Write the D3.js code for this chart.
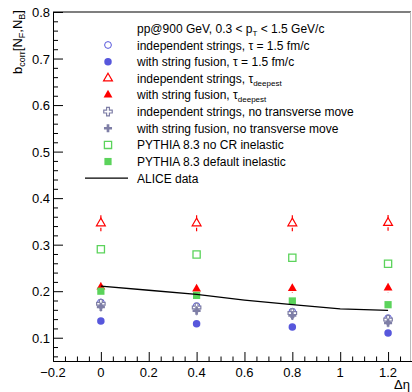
<!DOCTYPE html>
<html>
<head>
<meta charset="utf-8">
<script src="https://cdn.jsdelivr.net/npm/d3@7"></script>
<style>
  body { margin: 0; background: #fff; }
  text { font-family: "Liberation Sans", Arial, sans-serif; }
</style>
</head>
<body>
<div id="chart"></div>
<script>
// pseudorapidity gap points
var deta = [0, 0.4, 0.8, 1.2];

var indepTau      = [0.176, 0.168, 0.156, 0.142];
var fusionTau     = [0.136, 0.130, 0.123, 0.110];
var indepDeep     = [0.346, 0.346, 0.346, 0.347];
var indepDeepErr  = [0.017, 0.017, 0.017, 0.017];
var fusionDeep    = [0.209, 0.205, 0.206, 0.207];
var fusionDeepErr = [0.010, 0.010, 0.009, 0.009];
var indepNoMove   = [0.173, 0.165, 0.153, 0.139];
var fusionNoMove  = [0.166, 0.158, 0.148, 0.132];
var noMoveErr     = [0.008, 0.008, 0.008, 0.008];
var pythiaNoCR    = [0.290, 0.279, 0.272, 0.259];
var pythiaDefault = [0.200, 0.191, 0.179, 0.171];

var aliceX = [0, 0.2, 0.4, 0.6, 0.8, 1.0, 1.2];
var aliceY = [0.211, 0.202, 0.193, 0.181, 0.171, 0.162, 0.159];

var xTicks = [-0.2, 0, 0.2, 0.4, 0.6, 0.8, 1, 1.2];
var yTicks = [0.1, 0.2, 0.3, 0.4, 0.5, 0.6, 0.7, 0.8];

var W = 412, H = 392;
var x = d3.scaleLinear().domain([-0.2, 1.3]).range([53, 412]);
var y = d3.scaleLinear().domain([0.05, 0.8]).range([361, 12]);

var svg = d3.select("#chart").append("svg")
    .attr("width", W).attr("height", H);

// frame
svg.append("line").attr("x1", 53).attr("x2", 411).attr("y1", 12).attr("y2", 12)
    .attr("stroke", "#555").attr("stroke-width", 1.5);
svg.append("line").attr("x1", 410.5).attr("x2", 410.5).attr("y1", 12).attr("y2", 361)
    .attr("stroke", "#bbb").attr("stroke-width", 1);

// x axis
var xMinor = d3.range(-0.2, 1.3001, 0.05).filter(function(v) {
  return Math.abs(Math.round(v * 5) - v * 5) > 1e-6;
});
var xAxis = svg.append("g").attr("transform", "translate(0,361)")
    .call(d3.axisTop(x).tickValues(xTicks).tickSize(9).tickFormat(""));
xAxis.select(".domain").attr("stroke", "#000");
svg.append("g").attr("transform", "translate(0,361)")
    .call(d3.axisTop(x).tickValues(xMinor).tickSize(4.5).tickFormat(""))
    .select(".domain").remove();
svg.selectAll(".xlab").data(xTicks).enter().append("text")
    .attr("class", "xlab")
    .attr("x", function(d) { return x(d); })
    .attr("y", 377)
    .attr("text-anchor", "middle")
    .attr("font-size", 13)
    .text(function(d) { return d === 0 ? "0" : d3.format("")(d).replace("-", "\u2212"); });
svg.append("text").attr("x", 410).attr("y", 389).attr("text-anchor", "end")
    .attr("font-size", 13).text("\u0394\u03b7");

// y axis
var yMinor = d3.range(0.06, 0.8001, 0.02).filter(function(v) {
  return Math.abs(Math.round(v * 10) - v * 10) > 1e-6;
});
var yAxis = svg.append("g").attr("transform", "translate(53,0)")
    .call(d3.axisRight(y).tickValues(yTicks).tickSize(10).tickFormat(""));
yAxis.select(".domain").attr("stroke", "#000");
svg.append("g").attr("transform", "translate(53,0)")
    .call(d3.axisRight(y).tickValues(yMinor).tickSize(5).tickFormat(""))
    .select(".domain").remove();
svg.selectAll(".ylab").data(yTicks).enter().append("text")
    .attr("class", "ylab")
    .attr("x", 50)
    .attr("y", function(d) { return y(d) + 5; })
    .attr("text-anchor", "end")
    .attr("font-size", 13)
    .text(function(d) { return d3.format(".1f")(d); });

var ytitle = svg.append("text")
    .attr("transform", "translate(22,10) rotate(-90)")
    .attr("text-anchor", "end")
    .attr("font-size", 13);
ytitle.append("tspan").text("b");
ytitle.append("tspan").attr("font-size", 9).attr("dy", 3).text("corr");
ytitle.append("tspan").attr("dy", -3).text("[N");
ytitle.append("tspan").attr("font-size", 9).attr("dy", 3).text("F");
ytitle.append("tspan").attr("dy", -3).text(",N");
ytitle.append("tspan").attr("font-size", 9).attr("dy", 3).text("B");
ytitle.append("tspan").attr("dy", -3).text("]");

// series definitions
var blue = "#5757dc", red = "#ff0000", green = "#5bd35b", grey = "#7e7ea6";
var series = [
  { vals: indepTau, sym: d3.symbolCircle, size: 36, fill: "none", stroke: blue, sw: 1 },
  { vals: fusionTau, sym: d3.symbolCircle, size: 44, fill: blue, stroke: "none", sw: 0 },
  { vals: indepDeep, err: indepDeepErr, sym: d3.symbolTriangle, size: 34, fill: "none", stroke: red, sw: 1.2 },
  { vals: fusionDeep, err: fusionDeepErr, sym: d3.symbolTriangle, size: 34, fill: red, stroke: "none", sw: 0 },
  { vals: indepNoMove, err: noMoveErr, sym: d3.symbolCross, size: 40, fill: "#fff", stroke: grey, sw: 1.2 },
  { vals: fusionNoMove, err: noMoveErr, sym: d3.symbolCross, size: 36, fill: grey, stroke: "none", sw: 0 },
  { vals: pythiaNoCR, sym: d3.symbolSquare, size: 52, fill: "none", stroke: green, sw: 1.3 },
  { vals: pythiaDefault, sym: d3.symbolSquare, size: 52, fill: green, stroke: "none", sw: 0 }
];

var plot = svg.append("g");
var gap = 4.5; // error bars stop at the marker edge, as ROOT draws them
series.forEach(function(s) {
  var col = s.stroke !== "none" ? s.stroke : s.fill;
  if (s.err) {
    [1, -1].forEach(function(sign) {
      plot.selectAll(null).data(deta).enter().append("line")
          .attr("x1", function(d) { return x(d); })
          .attr("x2", function(d) { return x(d); })
          .attr("y1", function(d, i) { return y(s.vals[i]) - sign * gap; })
          .attr("y2", function(d, i) { return y(s.vals[i] + sign * s.err[i]); })
          .attr("stroke", col).attr("stroke-width", 1.2);
    });
  }
  plot.selectAll(null).data(deta).enter().append("path")
      .attr("d", d3.symbol().type(s.sym).size(s.size))
      .attr("transform", function(d, i) { return "translate(" + x(d) + "," + y(s.vals[i]) + ")"; })
      .attr("fill", s.fill).attr("stroke", s.stroke).attr("stroke-width", s.sw);
});

// ALICE data line
var line = d3.line().x(function(d) { return x(d[0]); }).y(function(d) { return y(d[1]); });
plot.append("path")
    .datum(d3.zip(aliceX, aliceY))
    .attr("d", line)
    .attr("fill", "none").attr("stroke", "#000").attr("stroke-width", 1.3);

// legend
var legendLabels = [
  "independent strings, \u03c4 = 1.5 fm/c",
  "with string fusion, \u03c4 = 1.5 fm/c",
  ["independent strings, \u03c4", "deepest"],
  ["with string fusion, \u03c4", "deepest"],
  "independent strings, no transverse move",
  "with string fusion, no transverse move",
  "PYTHIA 8.3 no CR inelastic",
  "PYTHIA 8.3 default inelastic"
];
var lx = 108, tx = 137, ly0 = 45, ldy = 16.65;

var head = svg.append("text").attr("x", tx).attr("y", ly0 - ldy + 4.5).attr("font-size", 12);
head.append("tspan").text("pp@900 GeV, 0.3 < p");
head.append("tspan").attr("font-size", 8).attr("dy", 3).text("T");
head.append("tspan").attr("dy", -3).text(" < 1.5 GeV/c");

series.forEach(function(s, i) {
  var cy = ly0 + i * ldy;
  svg.append("path")
      .attr("d", d3.symbol().type(s.sym).size(s.size)())
      .attr("transform", "translate(" + lx + "," + cy + ")")
      .attr("fill", s.fill).attr("stroke", s.stroke).attr("stroke-width", s.sw);
  var t = svg.append("text").attr("x", tx).attr("y", cy + 4.5).attr("font-size", 12);
  var lab = legendLabels[i];
  if (typeof lab === "string") {
    t.text(lab);
  } else {
    t.append("tspan").text(lab[0]);
    t.append("tspan").attr("font-size", 8).attr("dy", 3).text(lab[1]);
  }
});
var aliceRow = ly0 + 8 * ldy;
svg.append("line").attr("x1", 85).attr("x2", 128).attr("y1", aliceRow).attr("y2", aliceRow)
    .attr("stroke", "#000").attr("stroke-width", 1.3);
svg.append("text").attr("x", tx).attr("y", aliceRow + 4.5).attr("font-size", 12).text("ALICE data");
</script>
</body>
</html>
